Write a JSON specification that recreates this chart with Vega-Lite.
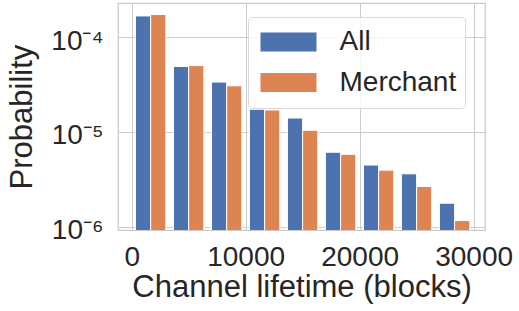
{
  "$schema": "https://vega.github.io/schema/vega-lite/v6.json",
  "width": 367,
  "height": 227,
  "autosize": {"type": "none"},
  "padding": {"left": 118, "top": 3, "right": 34, "bottom": 81},
  "background": "white",
  "config": {
    "font": "Liberation Sans",
    "view": {"stroke": "#cccccc", "strokeWidth": 1.25},
    "axis": {
      "grid": true,
      "gridColor": "#cccccc",
      "gridWidth": 1,
      "domain": false,
      "ticks": false,
      "labelFontSize": 28,
      "labelColor": "#262626",
      "titleFontSize": 31,
      "titleFontWeight": "normal",
      "titleColor": "#262626"
    }
  },
  "data": {
    "values": [
      {"lo": 0, "hi": 3333.33, "series": "All", "p": 0.000167},
      {"lo": 0, "hi": 3333.33, "series": "Merchant", "p": 0.000173},
      {"lo": 3333.33, "hi": 6666.67, "series": "All", "p": 0.000049},
      {"lo": 3333.33, "hi": 6666.67, "series": "Merchant", "p": 0.00005},
      {"lo": 6666.67, "hi": 10000, "series": "All", "p": 0.0000335},
      {"lo": 6666.67, "hi": 10000, "series": "Merchant", "p": 0.0000306},
      {"lo": 10000, "hi": 13333.33, "series": "All", "p": 0.0000173},
      {"lo": 10000, "hi": 13333.33, "series": "Merchant", "p": 0.000017},
      {"lo": 13333.33, "hi": 16666.67, "series": "All", "p": 0.000014},
      {"lo": 13333.33, "hi": 16666.67, "series": "Merchant", "p": 0.0000104},
      {"lo": 16666.67, "hi": 20000, "series": "All", "p": 0.0000061},
      {"lo": 16666.67, "hi": 20000, "series": "Merchant", "p": 0.0000058},
      {"lo": 20000, "hi": 23333.33, "series": "All", "p": 0.00000447},
      {"lo": 20000, "hi": 23333.33, "series": "Merchant", "p": 0.00000395},
      {"lo": 23333.33, "hi": 26666.67, "series": "All", "p": 0.00000361},
      {"lo": 23333.33, "hi": 26666.67, "series": "Merchant", "p": 0.00000266},
      {"lo": 26666.67, "hi": 30000, "series": "All", "p": 0.00000177},
      {"lo": 26666.67, "hi": 30000, "series": "Merchant", "p": 0.00000116}
    ]
  },
  "transform": [
    {"calculate": "datum.lo + (datum.hi - datum.lo) * (datum.series == 'All' ? 0.1 : 0.5)", "as": "x0"},
    {"calculate": "datum.lo + (datum.hi - datum.lo) * (datum.series == 'All' ? 0.5 : 0.9)", "as": "x1"}
  ],
  "mark": {"type": "bar", "clip": true, "stroke": "white", "strokeWidth": 1},
  "encoding": {
    "x": {
      "field": "x0",
      "type": "quantitative",
      "scale": {"domain": [-1200, 31000], "nice": false, "zero": false},
      "axis": {"values": [0, 10000, 20000, 30000], "format": "d", "title": "Channel lifetime (blocks)", "labelPadding": 13, "titlePadding": 1}
    },
    "x2": {"field": "x1"},
    "y": {
      "field": "p",
      "type": "quantitative",
      "scale": {"type": "log", "domain": [9.23e-7, 2.286e-4], "nice": false},
      "axis": {
        "values": [0.000001, 0.00001, 0.0001],
        "labelExpr": "datum.value > 0.00005 ? '10⁻⁴' : datum.value > 0.000005 ? '10⁻⁵' : '10⁻⁶'",
        "labelPadding": 15,
        "labelOffset": 4,
        "title": "Probability",
        "titlePadding": 12
      }
    },
    "y2": {"datum": 1e-7},
    "color": {
      "field": "series",
      "type": "nominal",
      "scale": {"domain": ["All", "Merchant"], "range": ["#4c72b0", "#dd8452"]},
      "legend": {
        "orient": "none",
        "legendX": 130,
        "legendY": 14,
        "title": null,
        "fillColor": "rgba(255,255,255,0.8)",
        "strokeColor": "#d9d9d9",
        "cornerRadius": 4,
        "padding": 8,
        "symbolType": "M-2,-0.68H2V0.68H-2Z",
        "symbolSize": 784,
        "symbolOffset": 18.5,
        "symbolStrokeWidth": 0,
        "symbolOpacity": 1,
        "labelFontSize": 28,
        "labelColor": "#262626",
        "labelOffset": 37,
        "clipHeight": 34,
        "rowPadding": 6.5
      }
    }
  }
}
